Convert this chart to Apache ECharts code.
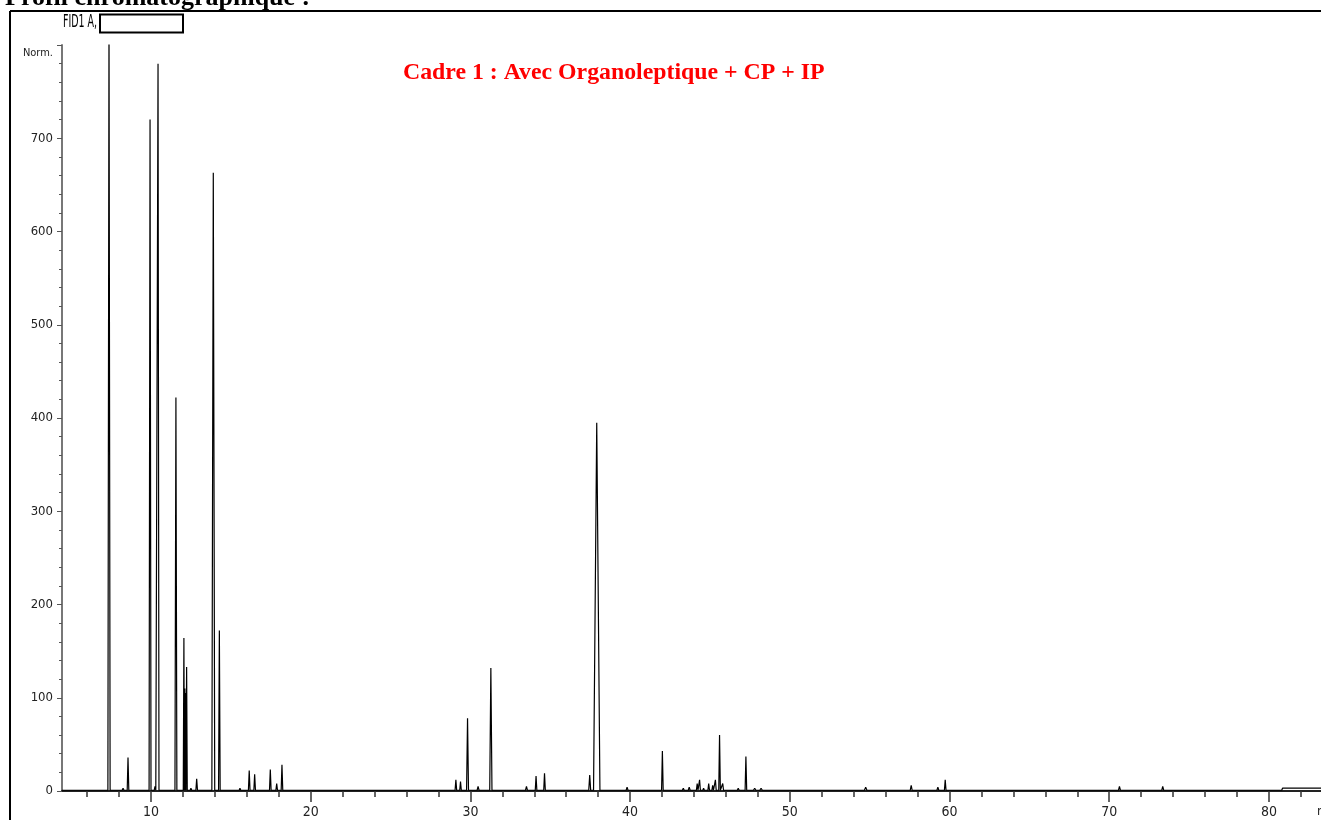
<!DOCTYPE html>
<html>
<head>
<meta charset="utf-8">
<script src="https://cdn.jsdelivr.net/npm/echarts@6/dist/echarts.min.js"></script>
<style>
  html, body { margin: 0; padding: 0; background: #fff; }
  #chart { width: 1321px; height: 820px; }
</style>
</head>
<body>
<div id="chart"></div>
<script>
"use strict"

// temps de rétention (min), hauteur (Norm.), demi-largeur (min)
var peakTimes = [
    4.74, 5.43, 6.10, 7.05, 7.37, 7.75, 8.25, 8.56, 9.94, 10.25,
    10.44, 10.75, 11.56, 12.06, 12.12, 12.17, 12.23, 12.50, 12.86, 13.20,
    13.90, 14.28, 14.75, 15.57, 16.15, 16.49, 17.47, 17.87, 18.20, 18.50,
    26.84, 27.57, 29.09, 29.38, 29.82, 30.48, 31.28, 32.78, 33.51, 34.11,
    34.64, 35.60, 36.20, 37.47, 37.91, 39.20, 39.81, 40.30, 41.50, 42.02,
    43.33, 43.70, 44.20, 44.35, 44.60, 44.92, 45.17, 45.34, 45.60, 45.80,
    46.77, 47.25, 47.80, 48.20, 48.70, 49.60, 50.60, 51.30, 52.20, 54.75,
    55.10, 56.40, 57.10, 57.60, 58.30, 59.27, 59.73, 62.90, 67.00, 70.20,
    70.64, 71.20, 73.35, 75.20, 78.80, 79.60, 80.40
];
var peakHeights = [
    2, 2, 1.5, 2, 830, 2, 3, 36, 720, 5,
    780, 2, 422, 164, 110, 105, 133, 3, 13, 2,
    663, 172, 2, 3, 22, 18, 23, 8, 28, 2,
    2, 2, 12, 10, 78, 5, 132, 2, 5, 16,
    19, 2, 2, 17, 395, 2, 4, 2, 2, 43,
    3, 4, 8, 12, 3, 8, 6, 12, 60, 8,
    3, 37, 3, 3, 2, 2, 2, 2, 2, 4,
    2, 2, 2, 6, 2, 4, 12, 2, 2, 2,
    5, 2, 5, 2, 2, 2, 2
];
var peakWidths = [
    0.08, 0.08, 0.08, 0.06, 0.07, 0.06, 0.06, 0.05, 0.06, 0.05,
    0.06, 0.05, 0.06, 0.04, 0.03, 0.03, 0.04, 0.05, 0.05, 0.05,
    0.09, 0.05, 0.05, 0.05, 0.05, 0.05, 0.05, 0.05, 0.05, 0.05,
    0.08, 0.08, 0.05, 0.05, 0.06, 0.06, 0.07, 0.06, 0.06, 0.05,
    0.05, 0.08, 0.08, 0.06, 0.20, 0.08, 0.06, 0.08, 0.08, 0.05,
    0.06, 0.06, 0.05, 0.05, 0.05, 0.05, 0.05, 0.05, 0.05, 0.05,
    0.06, 0.05, 0.08, 0.08, 0.08, 0.08, 0.08, 0.08, 0.08, 0.08,
    0.08, 0.08, 0.08, 0.06, 0.08, 0.06, 0.05, 0.08, 0.08, 0.08,
    0.06, 0.08, 0.06, 0.08, 0.08, 0.08, 0.08
];

// ligne de base
var baseTimes = [4.43, 80.80, 80.85, 83.26];
var baseLevels = [0.8, 0.8, 3, 3];

var xMin = 4.427, xMax = 83.26;
var xMajorTicks = [10, 20, 30, 40, 50, 60, 70, 80];
var xMinorTicks = [6, 8, 12, 14, 16, 18, 22, 24, 26, 28, 32, 34, 36, 38, 42, 44, 46, 48,
                   52, 54, 56, 58, 62, 64, 66, 68, 72, 74, 76, 78, 82];
var yMin = 0, yMax = 800, yStep = 100;

function traceData(){
    var pts = [];
    for(let i = 0; i < baseTimes.length; i++){
        pts.push([baseTimes[i], baseLevels[i]]);
    }
    for(let i = 0, l = peakTimes.length; i < l; i++){
        let t = peakTimes[i];
        let w = peakWidths[i];
        pts.push([t - w, baseLevels[0]]);
        pts.push([t, peakHeights[i]]);
        pts.push([t + w, baseLevels[0]]);
    }
    pts.sort(function(a, b){ return a[0] - b[0]; });
    return pts;
}

var narrow = "'Liberation Sans Narrow', 'DejaVu Sans Condensed', sans-serif";

function drawChrom(target){
    var chart = echarts.init(document.getElementById(target), null, {renderer: 'canvas'});
    var option = {
        animation: false,
        backgroundColor: '#fff',
        grid: {
            left: 62,
            top: 45,
            right: 0,
            bottom: 29
        },
        xAxis: [
            {
                type: 'value',
                min: xMin,
                max: xMax,
                axisLine: { lineStyle: { color: '#222', width: 2 } },
                axisTick: {
                    customValues: xMajorTicks,
                    length: 11,
                    lineStyle: { color: '#333', width: 1.5 }
                },
                axisLabel: {
                    customValues: xMajorTicks,
                    margin: 14,
                    color: '#222',
                    fontSize: 14,
                    fontFamily: narrow
                },
                splitLine: { show: false }
            },
            {
                type: 'value',
                min: xMin,
                max: xMax,
                position: 'bottom',
                axisLine: { show: false },
                axisTick: {
                    customValues: xMinorTicks,
                    length: 6,
                    lineStyle: { color: '#333', width: 1.5 }
                },
                axisLabel: { show: false },
                splitLine: { show: false }
            }
        ],
        yAxis: {
            type: 'value',
            min: yMin,
            max: yMax,
            interval: yStep,
            axisLine: { show: true, lineStyle: { color: '#777', width: 2 } },
            axisTick: { show: true, length: 5, lineStyle: { color: '#555' } },
            minorTick: { show: true, splitNumber: 5, length: 3, lineStyle: { color: '#555' } },
            axisLabel: {
                margin: 9,
                color: '#222',
                fontSize: 13,
                fontFamily: narrow,
                formatter: function(v){
                    return v === yMax ? '{n|Norm.}' : String(v);
                },
                rich: {
                    n: { fontSize: 11, fontFamily: narrow, color: '#222', padding: [16, 0, 0, 0] }
                }
            },
            splitLine: { show: false }
        },
        graphic: [
            {
                type: 'text',
                left: 5,
                top: -15,
                style: {
                    text: 'Profil chromatographique :',
                    font: 'bold 26px "Liberation Serif", "Times New Roman", serif',
                    fill: '#000'
                }
            },
            {
                type: 'rect',
                shape: { x: 10, y: 12.5, width: 330, height: 1.5 },
                style: { fill: '#fff' }
            },
            {
                type: 'line',
                shape: { x1: 10, y1: 11, x2: 1321, y2: 11 },
                style: { stroke: '#000', lineWidth: 2 }
            },
            {
                type: 'line',
                shape: { x1: 10, y1: 11, x2: 10, y2: 820 },
                style: { stroke: '#000', lineWidth: 2 }
            },
            {
                type: 'text',
                x: 63,
                y: 23,
                scaleX: 0.62,
                style: {
                    text: 'FID1 A,',
                    font: '17px ' + narrow,
                    fill: '#000',
                    verticalAlign: 'middle'
                }
            },
            {
                type: 'rect',
                shape: { x: 100, y: 14.5, width: 83, height: 18 },
                style: { fill: '#fff', stroke: '#000', lineWidth: 2 }
            },
            {
                type: 'text',
                x: 403,
                y: 73,
                style: {
                    text: 'Cadre 1 : Avec Organoleptique + CP + IP',
                    font: 'bold 23.8px "Liberation Serif", "Times New Roman", serif',
                    fill: '#ff0000',
                    verticalAlign: 'middle'
                }
            },
            {
                type: 'text',
                x: 1317,
                y: 812,
                style: {
                    text: 'min',
                    font: '13px ' + narrow,
                    fill: '#222',
                    verticalAlign: 'middle'
                }
            }
        ],
        series: [
            {
                name: 'FID1 A',
                type: 'line',
                xAxisIndex: 0,
                showSymbol: false,
                clip: true,
                lineStyle: { color: '#000', width: 1.2 },
                data: traceData()
            }
        ]
    };
    chart.setOption(option);
}

drawChrom('chart');
</script>
</body>
</html>
